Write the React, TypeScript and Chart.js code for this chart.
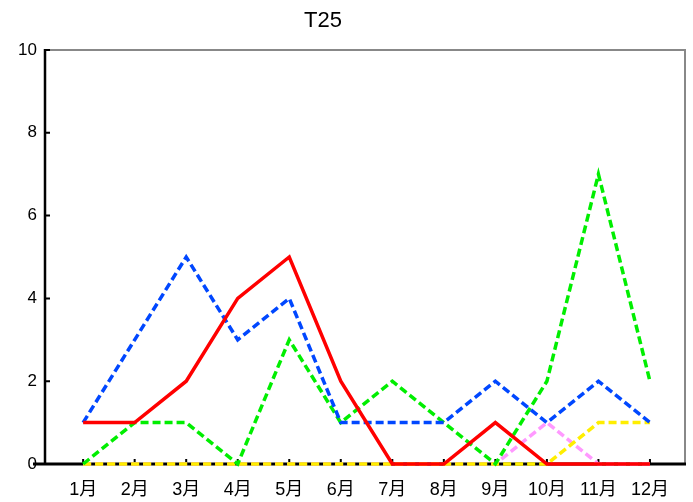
import React, { useEffect, useRef } from "react";
import { Chart, registerables } from "chart.js";

Chart.register(...registerables);

const categories = ["1月", "2月", "3月", "4月", "5月", "6月", "7月", "8月", "9月", "10月", "11月", "12月"];
const redValues = [1, 1, 2, 4, 5, 2, 0, 0, 1, 0, 0, 0];
const blueValues = [1, 3, 5, 3, 4, 1, 1, 1, 2, 1, 2, 1];
const greenValues = [0, 1, 1, 0, 3, 1, 2, 1, 0, 2, 7, 2];
const pinkValues = [0, 0, 0, 0, 0, 0, 0, 0, 0, 1, 0, 0];
const yellowValues = [0, 0, 0, 0, 0, 0, 0, 0, 0, 0, 1, 1];
const yTicks = [0, 2, 4, 6, 8, 10];
const titleText = "T25";

const FONT = "'Liberation Sans', Arial, 'Noto Sans CJK SC', sans-serif";

const toPoints = (vals: number[]) => vals.map((v, i) => ({ x: i + 1, y: v }));

const framePlugin = {
  id: "frame",
  beforeDatasetsDraw(chart: any) {
    const { ctx, chartArea } = chart;
    const { left, right, top, bottom } = chartArea;
    const xs = chart.scales.x;
    const ys = chart.scales.y;
    ctx.save();
    ctx.lineCap = "butt";
    ctx.strokeStyle = "#888888";
    ctx.lineWidth = 2;
    ctx.beginPath();
    ctx.moveTo(left, top);
    ctx.lineTo(right, top);
    ctx.lineTo(right, bottom);
    ctx.stroke();
    ctx.strokeStyle = "#000000";
    ctx.lineWidth = 2.5;
    ctx.beginPath();
    ctx.moveTo(left, top - 1);
    ctx.lineTo(left, bottom);
    ctx.stroke();
    ctx.lineWidth = 3;
    ctx.beginPath();
    ctx.moveTo(left - 12, bottom);
    ctx.lineTo(right + 1, bottom);
    ctx.stroke();
    ctx.lineWidth = 2;
    ctx.beginPath();
    categories.forEach((_, i) => {
      const px = xs.getPixelForValue(i + 1);
      ctx.moveTo(px, bottom);
      ctx.lineTo(px, bottom - 5);
    });
    yTicks.forEach((t) => {
      const py = ys.getPixelForValue(t);
      ctx.moveTo(left, py);
      ctx.lineTo(left + 5, py);
    });
    ctx.stroke();
    ctx.restore();
  },
  afterDraw(chart: any) {
    const { ctx } = chart;
    ctx.save();
    ctx.fillStyle = "#000000";
    ctx.font = `normal 22px ${FONT}`;
    ctx.textAlign = "center";
    ctx.textBaseline = "middle";
    ctx.fillText(titleText, 323, 21);
    ctx.restore();
  },
};

export default function App() {
  const ref = useRef<HTMLCanvasElement | null>(null);
  useEffect(() => {
    document.body.style.margin = "0";
    if (!ref.current) return;
    const dashed = [8, 4];
    const common = { borderWidth: 3.5, pointRadius: 0, tension: 0, clip: false as any };
    // Chart.js draws the first dataset on top: red, blue, green, yellow, pink
    const chart = new Chart(ref.current, {
      type: "line",
      data: {
        datasets: [
          { label: "red", data: toPoints(redValues), borderColor: "#ff0000", ...common },
          { label: "blue", data: toPoints(blueValues), borderColor: "#0047ff", borderDash: dashed, ...common },
          { label: "green", data: toPoints(greenValues), borderColor: "#00ee00", borderDash: dashed, ...common },
          { label: "yellow", data: toPoints(yellowValues), borderColor: "#ffee00", borderDash: dashed, ...common },
          { label: "pink", data: toPoints(pinkValues), borderColor: "#ff99ff", borderDash: dashed, ...common },
        ],
      },
      options: {
        animation: false,
        responsive: false,
        maintainAspectRatio: false,
        layout: { padding: { left: 0, right: 8, top: 50, bottom: 0 } },
        plugins: {
          legend: { display: false },
          tooltip: { enabled: false },
          title: { display: false },
        },
        scales: {
          x: {
            type: "linear",
            min: 0.26,
            max: 12.68,
            afterBuildTicks: (scale: any) => {
              scale.ticks = categories.map((_, i) => ({ value: i + 1 }));
            },
            afterFit: (scale: any) => {
              scale.height = 38;
            },
            ticks: {
              autoSkip: false,
              maxRotation: 0,
              padding: 15,
              color: "#000000",
              font: { family: FONT, size: 18 },
              callback: (v: any) => categories[Math.round(Number(v)) - 1] ?? "",
            },
            grid: { display: false, drawTicks: false },
            border: { display: false },
          },
          y: {
            type: "linear",
            min: 0,
            max: 10,
            afterBuildTicks: (scale: any) => {
              scale.ticks = yTicks.map((v) => ({ value: v }));
            },
            afterFit: (scale: any) => {
              scale.width = 45;
            },
            ticks: {
              padding: 8,
              color: "#000000",
              font: { family: FONT, size: 17 },
            },
            grid: { display: false, drawTicks: false },
            border: { display: false },
          },
        },
      },
      plugins: [framePlugin],
    } as any);
    return () => chart.destroy();
  }, []);
  return <canvas ref={ref} width={693} height={502} style={{ display: "block" }} />;
}
